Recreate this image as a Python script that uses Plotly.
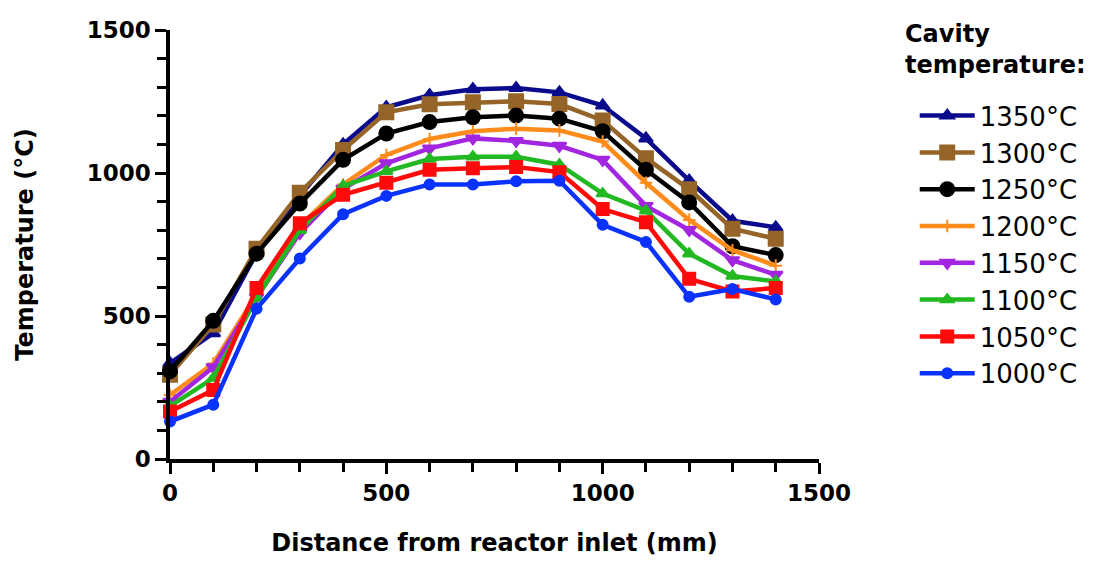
import plotly.graph_objects as go

# distance from reactor inlet (mm)
distance = [0, 100, 200, 300, 400, 500, 600, 700, 800, 900, 1000, 1100, 1200, 1300, 1400]

# temperature profiles (°C) per cavity temperature
t1350 = [335, 440, 720, 920, 1100, 1230, 1272, 1293, 1297, 1282, 1236, 1121, 973, 833, 810]
t1300 = [295, 470, 735, 931, 1080, 1212, 1240, 1247, 1251, 1241, 1184, 1052, 943, 805, 770]
t1250 = [307, 483, 718, 893, 1046, 1138, 1178, 1195, 1201, 1190, 1146, 1011, 897, 744, 713]
t1200 = [224, 334, 575, 815, 960, 1063, 1119, 1146, 1155, 1149, 1110, 966, 836, 730, 676]
t1150 = [200, 321, 565, 790, 945, 1034, 1086, 1121, 1112, 1095, 1046, 885, 801, 695, 644]
t1100 = [185, 283, 563, 800, 955, 1006, 1049, 1057, 1057, 1029, 928, 868, 718, 640, 621]
t1050 = [166, 241, 598, 824, 924, 966, 1011, 1017, 1021, 1003, 874, 828, 630, 586, 598]
t1000 = [131, 190, 525, 701, 856, 920, 960, 960, 971, 973, 819, 759, 567, 594, 558]

labels = ['1350°C', '1300°C', '1250°C', '1200°C', '1150°C', '1100°C', '1050°C', '1000°C']
series = [t1350, t1300, t1250, t1200, t1150, t1100, t1050, t1000]
colors = ['#0a0a8c', '#946428', '#000000', '#ff8c1a', '#a226e0', '#22b822', '#ff0a0a', '#0a32ff']
symbols = ['triangle-up', 'square', 'circle', 'cross-thin', 'triangle-down', 'triangle-up', 'square', 'circle']
sizes = [12, 14, 14, 9, 12, 11, 12, 10]

FONT = 'DejaVu Sans, Arial, sans-serif'

fig = go.Figure()

for name, temps, c, s, sz in zip(labels, series, colors, symbols, sizes):
    fig.add_trace(go.Scatter(
        x=distance, y=temps, name=name, legendgroup=name,
        mode='lines+markers', cliponaxis=False,
        line=dict(color=c, width=4.5),
        marker=dict(symbol=s, size=sz, color=c, line=dict(color=c, width=2)),
    ))

axis_common = dict(
    showgrid=False, zeroline=False,
    showline=True, linecolor='black', linewidth=3.5,
    ticks='outside', ticklen=11, tickwidth=3, tickcolor='black',
    tickfont=dict(family=FONT, size=23, color='black', weight='bold'),
    range=[0, 1500], tickvals=[0, 500, 1000, 1500],
    minor=dict(dtick=100, ticks='outside', ticklen=9, tickwidth=3, tickcolor='black'),
)

fig.update_xaxes(**axis_common,
                 title=dict(text='<b>Distance from reactor inlet (mm)</b>', standoff=30,
                            font=dict(family=FONT, size=24, color='black')))
fig.update_yaxes(**axis_common,
                 title=dict(text='<b>Temperature (°C)</b>', standoff=47,
                            font=dict(family=FONT, size=24, color='black')))

fig.add_annotation(text='<b>Cavity<br>temperature:</b>', xref='paper', yref='paper',
                   x=1.13, y=1.028, xanchor='left', yanchor='top', align='left', showarrow=False,
                   font=dict(family=FONT, size=24, color='black'))

fig.update_layout(
    width=1095, height=565,
    margin=dict(l=170, r=254, t=30, b=89),
    plot_bgcolor='white', paper_bgcolor='white',
    legend=dict(x=1.1475, y=0.855, xanchor='left', yanchor='top',
                font=dict(family=FONT, size=26, color='black'),
                itemwidth=55, tracegroupgap=0, bgcolor='rgba(0,0,0,0)'),
    showlegend=True,
)

# drop the default page margin so the figure sits at the window's top-left corner
fig.write_html('out.html', config={'displayModeBar': False},
               post_script="document.body.style.margin='0';")
